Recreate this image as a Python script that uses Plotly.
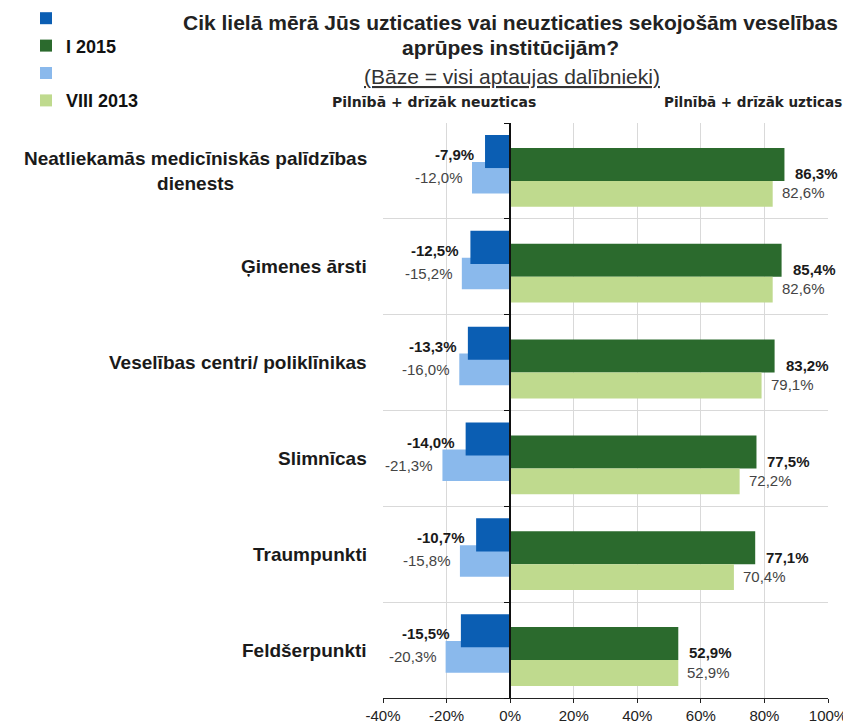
import plotly.graph_objects as go

categories = [
    "Neatliekamās medicīniskās palīdzības<br>dienests",
    "Ģimenes ārsti",
    "Veselības centri/ poliklīnikas",
    "Slimnīcas",
    "Traumpunkti",
    "Feldšerpunkti",
]
neg_2015 = [-7.9, -12.5, -13.3, -14.0, -10.7, -15.5]
neg_2013 = [-12.0, -15.2, -16.0, -21.3, -15.8, -20.3]
pos_2015 = [86.3, 85.4, 83.2, 77.5, 77.1, 52.9]
pos_2013 = [82.6, 82.6, 79.1, 72.2, 70.4, 52.9]
x_ticks = [-40, -20, 0, 20, 40, 60, 80, 100]

FONT = "Liberation Sans, Arial, sans-serif"
DARK_BLUE = "#0b5eb3"
LIGHT_BLUE = "#8ab9ec"
DARK_GREEN = "#2b6a2d"
LIGHT_GREEN = "#bfda8e"

# the page body adds an 8px margin, so the figure is drawn 8px in from the window
PAD = 8
W, H = 851 - PAD, 726 - PAD
# plot area, in window pixels
L, R, T, B = 383, 828, 123, 698


def px_x(x):
    return (x - L) / (R - L)


def px_y(y):
    return (B - y) / (B - T)


def fmt(v):
    return f"{v:.1f}%".replace(".", ",")


ypos = list(range(len(categories)))

# (values, colour, offset, width, legend name, rank)
series = [
    (neg_2013, LIGHT_BLUE, -0.094, 0.33, "", 3),
    (neg_2015, DARK_BLUE, -0.375, 0.345, "", 1),
    (pos_2015, DARK_GREEN, -0.24, 0.344, "I 2015", 2),
    (pos_2013, LIGHT_GREEN, 0.104, 0.27, "VIII 2013", 4),
]

fig = go.Figure()
for vals, col, off, w, name, rank in series:
    fig.add_trace(
        go.Bar(
            x=vals,
            y=ypos,
            orientation="h",
            offset=off,
            width=w,
            marker=dict(color=col, line=dict(width=0)),
            name=name,
            legendrank=rank,
            legendgroup=str(rank),
            hoverinfo="skip",
        )
    )

annotations = []
# value labels
label_specs = [
    (neg_2015, -0.17, True, -9),
    (neg_2013, 0.07, False, -7),
    (pos_2015, 0.03, True, 9),
    (pos_2013, 0.23, False, 7),
]
for vals, dy, bold, shift in label_specs:
    for i, v in enumerate(vals):
        annotations.append(
            dict(
                x=v,
                y=i + dy,
                xref="x",
                yref="y",
                text=f"<b>{fmt(v)}</b>" if bold else fmt(v),
                showarrow=False,
                xanchor="right" if v < 0 else "left",
                xshift=shift,
                font=dict(family=FONT, size=15, color="#1a1a1a" if bold else "#444444"),
            )
        )

# category labels
for i, c in enumerate(categories):
    annotations.append(
        dict(
            x=px_x(369),
            y=i,
            xref="paper",
            yref="y",
            text=f"<b>{c}</b>",
            showarrow=False,
            xanchor="right",
            align="center",
            font=dict(family=FONT, size=19, color="#1a1a1a"),
        )
    )

# title block
annotations += [
    dict(
        x=px_x(510), y=px_y(23), xref="paper", yref="paper",
        text="<b>Cik lielā mērā Jūs uzticaties vai neuzticaties sekojošām veselības</b>",
        showarrow=False, xanchor="center", yanchor="middle",
        font=dict(family=FONT, size=21, color="#222222"),
    ),
    dict(
        x=px_x(510), y=px_y(47), xref="paper", yref="paper",
        text="<b>aprūpes institūcijām?</b>",
        showarrow=False, xanchor="center", yanchor="middle",
        font=dict(family=FONT, size=21, color="#222222"),
    ),
    dict(
        x=px_x(512), y=px_y(76), xref="paper", yref="paper",
        text="<u>(Bāze = visi aptaujas dalībnieki)</u>",
        showarrow=False, xanchor="center", yanchor="middle",
        font=dict(family=FONT, size=21, color="#333333"),
    ),
    dict(
        x=px_x(434), y=px_y(102), xref="paper", yref="paper",
        text="<b>Pilnībā + drīzāk neuzticas</b>",
        showarrow=False, xanchor="center", yanchor="middle",
        font=dict(family="DejaVu Sans, sans-serif", size=14, color="#222222"),
    ),
    dict(
        x=px_x(753), y=px_y(102), xref="paper", yref="paper",
        text="<b>Pilnībā + drīzāk uzticas</b>",
        showarrow=False, xanchor="center", yanchor="middle",
        font=dict(family="DejaVu Sans, sans-serif", size=13.5, color="#222222"),
    ),
]

fig.update_layout(
    width=W,
    height=H,
    margin=dict(l=L - PAD, r=W - (R - PAD), t=T - PAD, b=H - (B - PAD), autoexpand=False),
    paper_bgcolor="white",
    plot_bgcolor="white",
    barmode="overlay",
    showlegend=True,
    legend=dict(
        x=px_x(26),
        y=px_y(0),
        xanchor="left",
        yanchor="top",
        traceorder="grouped",
        tracegroupgap=1,
        font=dict(family=FONT, size=18, color="#111111", weight="bold"),
        itemwidth=30,
        bgcolor="rgba(0,0,0,0)",
    ),
    annotations=annotations,
    xaxis=dict(
        range=[-40, 100],
        tickvals=x_ticks,
        ticktext=[f"{v}%" for v in x_ticks],
        showgrid=True,
        gridcolor="#d9d9d9",
        zeroline=False,
        showline=True,
        linecolor="#222222",
        ticks="outside",
        ticklen=4,
        tickcolor="#222222",
        tickfont=dict(family=FONT, size=15, color="#222222"),
        fixedrange=True,
    ),
    yaxis=dict(
        range=[len(categories) - 0.5, -0.5],
        tickvals=[i - 0.5 for i in range(len(categories) + 1)],
        showticklabels=False,
        showgrid=True,
        gridcolor="#d9d9d9",
        zeroline=False,
        showline=True,
        linecolor="#111111",
        linewidth=1.5,
        ticks="outside",
        ticklen=5,
        tickcolor="#111111",
        anchor="free",
        position=40 / 140,
        fixedrange=True,
    ),
)

fig.write_html("out.html")
